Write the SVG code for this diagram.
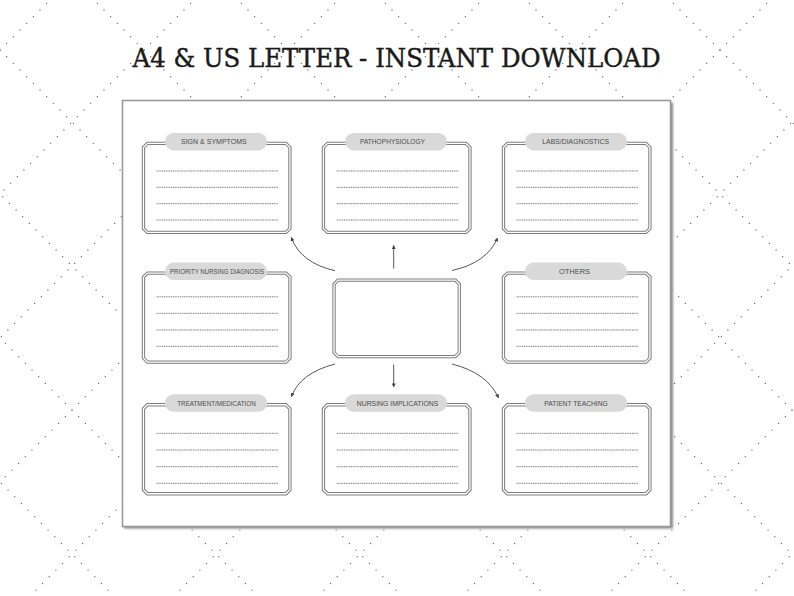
<svg xmlns="http://www.w3.org/2000/svg" xmlns:xlink="http://www.w3.org/1999/xlink" width="794" height="596" viewBox="0 0 794 596">
<style>
.bg{stroke:#6a6a6a;stroke-width:1.4;stroke-dasharray:0 9.43;stroke-linecap:round;fill:none}
.dl{stroke:#666;stroke-width:0.9;stroke-dasharray:1.1 0.7}
.pill{fill:#d9d9d9}
.lbl{font-family:"Liberation Sans",Arial,sans-serif;font-size:7.5px;fill:#4a4a4a}
.conn{fill:none;stroke:#444;stroke-width:0.9}
</style>
<defs>
<marker id="ah" viewBox="0 0 10 10" refX="9" refY="5" markerWidth="4" markerHeight="4" orient="auto" markerUnits="userSpaceOnUse">
<path d="M0,0 L10,5 L0,10 Z" fill="#444"/>
</marker>
<g id="frame">
<path d="M5.75,1.75 H144.25 L148.25,5.75 V86.75 L144.25,90.75 H5.75 L1.75,86.75 V5.75 Z" fill="#fff" stroke="#7c7c7c" stroke-width="3.3"/>
<path d="M5.75,1.75 H144.25 L148.25,5.75 V86.75 L144.25,90.75 H5.75 L1.75,86.75 V5.75 Z" fill="none" stroke="#fff" stroke-width="1.3"/>
</g>
<filter id="sh" x="-5%" y="-5%" width="110%" height="110%">
<feGaussianBlur stdDeviation="1.2"/>
</filter>
</defs>
<rect width="794" height="596" fill="#fff"/>
<g id="background">
<line class="bg" x1="60" y1="-10" x2="-560" y2="610"/>
<line class="bg" x1="204" y1="-10" x2="-416" y2="610"/>
<line class="bg" x1="348" y1="-10" x2="-272" y2="610"/>
<line class="bg" x1="492" y1="-10" x2="-128" y2="610"/>
<line class="bg" x1="636" y1="-10" x2="16" y2="610"/>
<line class="bg" x1="780" y1="-10" x2="160" y2="610"/>
<line class="bg" x1="924" y1="-10" x2="304" y2="610"/>
<line class="bg" x1="1068" y1="-10" x2="448" y2="610"/>
<line class="bg" x1="1212" y1="-10" x2="592" y2="610"/>
<line class="bg" x1="1356" y1="-10" x2="736" y2="610"/>
<line class="bg" x1="-492" y1="-10" x2="128" y2="610"/>
<line class="bg" x1="-348" y1="-10" x2="272" y2="610"/>
<line class="bg" x1="-204" y1="-10" x2="416" y2="610"/>
<line class="bg" x1="-60" y1="-10" x2="560" y2="610"/>
<line class="bg" x1="84" y1="-10" x2="704" y2="610"/>
<line class="bg" x1="228" y1="-10" x2="848" y2="610"/>
<line class="bg" x1="372" y1="-10" x2="992" y2="610"/>
<line class="bg" x1="516" y1="-10" x2="1136" y2="610"/>
<line class="bg" x1="660" y1="-10" x2="1280" y2="610"/>
</g>
<text x="132.5" y="66.5" textLength="528" lengthAdjust="spacingAndGlyphs" font-family="'DejaVu Serif','Liberation Serif',serif" font-size="26.5" fill="#1a1a1a" stroke="#1a1a1a" stroke-width="0.45">A4 &amp; US LETTER - INSTANT DOWNLOAD</text>
<g id="panel">
<rect x="124" y="102.5" width="549" height="426" fill="#8a8a8a" filter="url(#sh)"/>
<rect x="122.5" y="100.5" width="548" height="426" fill="#fff" stroke="#9a9a9a" stroke-width="1.6"/>
</g>
<g id="connectors">
<path class="conn" d="M393.7,268.5 V245.5" marker-end="url(#ah)"/>
<path class="conn" d="M393.7,364.5 V387" marker-end="url(#ah)"/>
<path class="conn" d="M335,270.7 Q300.4,262.8 291.3,237.5" marker-end="url(#ah)"/>
<path class="conn" d="M452,270.5 Q487,262.8 497.5,238" marker-end="url(#ah)"/>
<path class="conn" d="M335,364 Q300,373.2 291.5,396.5" marker-end="url(#ah)"/>
<path class="conn" d="M452,364 Q487.5,373 498.5,398" marker-end="url(#ah)"/>
</g>
<g id="sign-symptoms" transform="translate(141.7,141.7)">
<use href="#frame"/>
<line class="dl" x1="15" x2="136.5" y1="29.3" y2="29.3"/>
<line class="dl" x1="15" x2="136.5" y1="45.6" y2="45.6"/>
<line class="dl" x1="15" x2="136.5" y1="62" y2="62"/>
<line class="dl" x1="15" x2="136.5" y1="78.3" y2="78.3"/>
<rect class="pill" x="23.3" y="-8.7" width="102" height="17.4" rx="8.7"/>
<text class="lbl" x="39.3" y="2.7" textLength="65.7" lengthAdjust="spacingAndGlyphs">SIGN &amp; SYMPTOMS</text>
</g>
<g id="pathophysiology" transform="translate(321.7,141.7)">
<use href="#frame"/>
<line class="dl" x1="15" x2="136.5" y1="29.3" y2="29.3"/>
<line class="dl" x1="15" x2="136.5" y1="45.6" y2="45.6"/>
<line class="dl" x1="15" x2="136.5" y1="62" y2="62"/>
<line class="dl" x1="15" x2="136.5" y1="78.3" y2="78.3"/>
<rect class="pill" x="23.3" y="-8.7" width="102" height="17.4" rx="8.7"/>
<text class="lbl" x="38.3" y="2.7" textLength="65" lengthAdjust="spacingAndGlyphs">PATHOPHYSIOLOGY</text>
</g>
<g id="labs-diagnostics" transform="translate(501.7,141.7)">
<use href="#frame"/>
<line class="dl" x1="15" x2="136.5" y1="29.3" y2="29.3"/>
<line class="dl" x1="15" x2="136.5" y1="45.6" y2="45.6"/>
<line class="dl" x1="15" x2="136.5" y1="62" y2="62"/>
<line class="dl" x1="15" x2="136.5" y1="78.3" y2="78.3"/>
<rect class="pill" x="23.3" y="-8.7" width="102" height="17.4" rx="8.7"/>
<text class="lbl" x="40.6" y="2.7" textLength="66.7" lengthAdjust="spacingAndGlyphs">LABS/DIAGNOSTICS</text>
</g>
<g id="priority-nursing-diagnosis" transform="translate(141.7,271.3)">
<use href="#frame"/>
<line class="dl" x1="15" x2="136.5" y1="25.5" y2="25.5"/>
<line class="dl" x1="15" x2="136.5" y1="42" y2="42"/>
<line class="dl" x1="15" x2="136.5" y1="58.7" y2="58.7"/>
<line class="dl" x1="15" x2="136.5" y1="75" y2="75"/>
<rect class="pill" x="23.3" y="-8.7" width="102" height="17.4" rx="8.7"/>
<text class="lbl" x="28.3" y="2.7" textLength="94" lengthAdjust="spacingAndGlyphs">PRIORITY NURSING DIAGNOSIS</text>
</g>
<g id="center" transform="translate(332.3,278.3)">
<path d="M5.75,1.75 H122.95 L126.95,5.75 V74.25 L122.95,78.25 H5.75 L1.75,74.25 V5.75 Z" fill="#fff" stroke="#7c7c7c" stroke-width="3.3"/>
<path d="M5.75,1.75 H122.95 L126.95,5.75 V74.25 L122.95,78.25 H5.75 L1.75,74.25 V5.75 Z" fill="none" stroke="#fff" stroke-width="1.3"/>
</g>
<g id="others" transform="translate(501.7,271.3)">
<use href="#frame"/>
<line class="dl" x1="15" x2="136.5" y1="25.5" y2="25.5"/>
<line class="dl" x1="15" x2="136.5" y1="42" y2="42"/>
<line class="dl" x1="15" x2="136.5" y1="58.7" y2="58.7"/>
<line class="dl" x1="15" x2="136.5" y1="75" y2="75"/>
<rect class="pill" x="23.3" y="-8.7" width="102" height="17.4" rx="8.7"/>
<text class="lbl" x="57.3" y="2.7" textLength="31" lengthAdjust="spacingAndGlyphs">OTHERS</text>
</g>
<g id="treatment-medication" transform="translate(141.7,403)">
<use href="#frame"/>
<line class="dl" x1="15" x2="136.5" y1="30.3" y2="30.3"/>
<line class="dl" x1="15" x2="136.5" y1="47" y2="47"/>
<line class="dl" x1="15" x2="136.5" y1="63.7" y2="63.7"/>
<line class="dl" x1="15" x2="136.5" y1="80.3" y2="80.3"/>
<rect class="pill" x="23.3" y="-8.7" width="102" height="17.4" rx="8.7"/>
<text class="lbl" x="35.6" y="2.7" textLength="78.4" lengthAdjust="spacingAndGlyphs">TREATMENT/MEDICATION</text>
</g>
<g id="nursing-implications" transform="translate(321.7,403)">
<use href="#frame"/>
<line class="dl" x1="15" x2="136.5" y1="30.3" y2="30.3"/>
<line class="dl" x1="15" x2="136.5" y1="47" y2="47"/>
<line class="dl" x1="15" x2="136.5" y1="63.7" y2="63.7"/>
<line class="dl" x1="15" x2="136.5" y1="80.3" y2="80.3"/>
<rect class="pill" x="23.3" y="-8.7" width="102" height="17.4" rx="8.7"/>
<text class="lbl" x="35" y="2.7" textLength="81.6" lengthAdjust="spacingAndGlyphs">NURSING IMPLICATIONS</text>
</g>
<g id="patient-teaching" transform="translate(501.7,403)">
<use href="#frame"/>
<line class="dl" x1="15" x2="136.5" y1="30.3" y2="30.3"/>
<line class="dl" x1="15" x2="136.5" y1="47" y2="47"/>
<line class="dl" x1="15" x2="136.5" y1="63.7" y2="63.7"/>
<line class="dl" x1="15" x2="136.5" y1="80.3" y2="80.3"/>
<rect class="pill" x="23.3" y="-8.7" width="102" height="17.4" rx="8.7"/>
<text class="lbl" x="42.6" y="2.7" textLength="63.4" lengthAdjust="spacingAndGlyphs">PATIENT TEACHING</text>
</g>
</svg>
